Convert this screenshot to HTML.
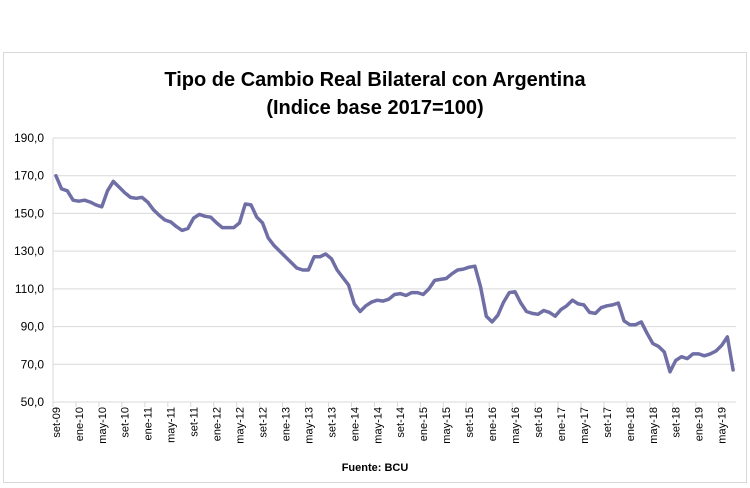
<!DOCTYPE html>
<html><head><meta charset="utf-8"><style>
body{margin:0;background:#fff;}
svg{display:block;font-family:"Liberation Sans",sans-serif;}
</style></head><body>
<svg id="s" width="750" height="488" xmlns="http://www.w3.org/2000/svg">
<rect x="0" y="0" width="750" height="488" fill="#fff"/>
<rect x="3.5" y="52.5" width="743" height="430" fill="#fff" stroke="#d9d9d9"/>
<text x="375" y="86" text-anchor="middle" font-size="20" font-weight="bold" fill="#000">Tipo de Cambio Real Bilateral con Argentina</text>
<text x="375" y="114" text-anchor="middle" font-size="20" font-weight="bold" fill="#000">(Indice base 2017=100)</text>
<text x="375" y="471" text-anchor="middle" font-size="11" font-weight="bold" fill="#000">Fuente: BCU</text>
<g id="g"></g>
</svg>
<script>
var d=[170,163,162,157,156.5,157,156,154.5,153.5,162,167,164,161,158.5,158,158.5,156,152,149,146.5,145.5,143,141,142,147.5,149.5,148.5,148,145,142.5,142.5,142.5,145,155,154.5,148,145,137,133,130,127,124,121,120,120,127,127,128.5,126,120,116,112,102,98,101,103,104,103.5,104.5,107,107.5,106.5,108,108,107,110,114.5,115,115.5,118,120,120.5,121.5,122,111,95.5,92.5,96,103,108,108.5,102.5,98,97,96.5,98.5,97.5,95.5,99,101,104,102,101.5,97.5,97,100,101,101.5,102.5,93,91,91,92.5,86.5,81,79.5,76.5,66,72,74,73,75.5,75.5,74.5,75.5,77,80,84.5,67];
var L=53,R=736,T=138,B=402,n=d.length,w=(R-L)/n;
function Y(v){return B-(v-50)/140*(B-T);}
var h='';
for(var v=50;v<=190;v+=20){var y=Y(v);
 if(v>50)h+='<line x1="'+L+'" x2="'+R+'" y1="'+y+'" y2="'+y+'" stroke="#d9d9d9"/>';
 h+='<text x="44" y="'+(y+4)+'" text-anchor="end" font-size="12" fill="#000">'+v+',0</text>';}
h+='<line x1="'+L+'" x2="'+L+'" y1="'+T+'" y2="'+B+'" stroke="#d9d9d9"/>';
h+='<line x1="'+L+'" x2="'+R+'" y1="'+B+'" y2="'+B+'" stroke="#d9d9d9"/>';
var m=['ene','feb','mar','abr','may','jun','jul','ago','set','oct','nov','dic'];
for(var i=0;i<n;i+=4){var x=L+w*(i+0.5);var mo=(8+i)%12,yr=9+Math.floor((8+i)/12);
 h+='<line x1="'+(L+w*i)+'" x2="'+(L+w*i)+'" y1="'+B+'" y2="'+(B+5)+'" stroke="#d9d9d9"/>';
 h+='<text transform="translate('+(x+4)+',407) rotate(-90)" text-anchor="end" font-size="11" fill="#000">'+m[mo]+'-'+(yr<10?'0':'')+yr+'</text>';}
var p='';for(var i=0;i<n;i++)p+=(i?'L':'M')+(L+w*(i+0.5)).toFixed(1)+' '+Y(d[i]).toFixed(1);
h+='<path d="'+p+'" fill="none" stroke="#6f6fa6" stroke-width="3.5" stroke-linejoin="round" stroke-linecap="round"/>';
document.getElementById('g').innerHTML=h;
</script>
</body></html>
